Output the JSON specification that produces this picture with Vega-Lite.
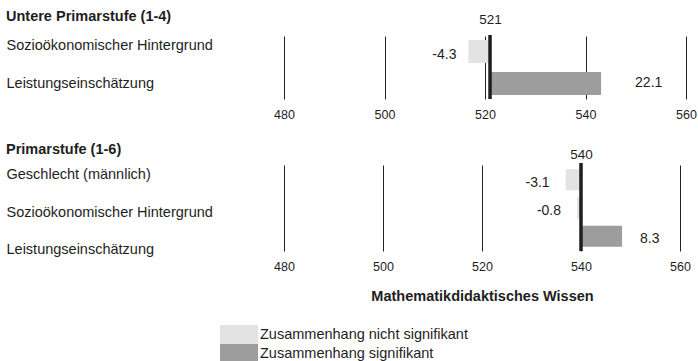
{
  "$schema": "https://vega.github.io/schema/vega-lite/v6.json",
  "padding": {"left": 6, "top": 8, "right": 0, "bottom": 0},
  "background": "white",
  "config": {
    "font": "Liberation Sans",
    "view": {"stroke": null},
    "axis": {"labelFont": "Liberation Sans", "titleFont": "Liberation Sans", "labelColor": "#1e1e1e", "titleColor": "#1e1e1e", "labelFlush": false},
    "legend": {"labelFont": "Liberation Sans"},
    "title": {"font": "Liberation Sans", "color": "#1e1e1e", "fontSize": 14.5, "fontWeight": "bold", "anchor": "start", "frame": "bounds"}
  },
  "datasets": {
    "effects": [
      {"group": "Untere Primarstufe (1-4)", "item": "Sozioökonomischer Hintergrund", "base": 521, "end": 516.7, "effect": -4.3, "sig": "Zusammenhang nicht signifikant"},
      {"group": "Untere Primarstufe (1-4)", "item": "Leistungseinschätzung", "base": 521, "end": 543.1, "effect": 22.1, "sig": "Zusammenhang signifikant"},
      {"group": "Primarstufe (1-6)", "item": "Geschlecht (männlich)", "base": 540, "end": 536.9, "effect": -3.1, "sig": "Zusammenhang nicht signifikant"},
      {"group": "Primarstufe (1-6)", "item": "Sozioökonomischer Hintergrund", "base": 540, "end": 539.2, "effect": -0.8, "sig": "Zusammenhang nicht signifikant"},
      {"group": "Primarstufe (1-6)", "item": "Leistungseinschätzung", "base": 540, "end": 548.3, "effect": 8.3, "sig": "Zusammenhang signifikant"}
    ],
    "bases": [
      {"group": "Untere Primarstufe (1-4)", "base": 521},
      {"group": "Primarstufe (1-6)", "base": 540}
    ]
  },
  "resolve": {"legend": {"color": "independent"}},
  "spacing": 20,
  "vconcat": [
    {
      "title": {"text": "Untere Primarstufe (1-4)", "offset": -12},
      "width": 402,
      "height": 63,
      "layer": [
        {
          "data": {"name": "effects"},
          "transform": [{"filter": "datum.group === 'Untere Primarstufe (1-4)'"}],
          "mark": {"type": "point", "opacity": 0},
          "encoding": {
            "y": {"field": "item", "type": "nominal", "sort": null, "scale": {"type": "point", "padding": 0.35},
              "axis": {"orient": "left", "title": null, "domain": false, "ticks": false, "labelAlign": "left", "labelPadding": 278, "labelOffset": -3, "labelFontSize": 14.5, "labelLimit": 400}},
            "x": {"field": "base", "type": "quantitative", "scale": {"domain": [480, 560], "nice": false, "zero": false}, "axis": null}
          }
        },
        {
          "data": {"name": "effects"},
          "transform": [{"filter": "datum.group === 'Untere Primarstufe (1-4)'"}],
          "mark": {"type": "bar"},
          "encoding": {
            "y": {"field": "item", "type": "nominal", "sort": null, "scale": {"type": "band", "paddingInner": 0.28, "paddingOuter": 0.125}, "axis": null},
            "x": {"field": "base", "type": "quantitative", "scale": {"domain": [480, 560], "nice": false, "zero": false},
              "axis": {"title": null, "values": [480, 500, 520, 540, 560], "grid": true, "gridColor": "#222222", "gridOpacity": 1, "domain": false, "ticks": false, "labelFontSize": 12.5, "labelPadding": 9}},
            "x2": {"field": "end"},
            "color": {"field": "sig", "type": "nominal", "scale": {"domain": ["Zusammenhang nicht signifikant", "Zusammenhang signifikant"], "range": ["#e3e3e3", "#9d9d9d"]}, "legend": null}
          }
        },
        {
          "data": {"name": "bases"},
          "transform": [{"filter": "datum.group === 'Untere Primarstufe (1-4)'"}],
          "mark": {"type": "rule", "strokeWidth": 3.5, "color": "#1e1e1e", "yOffset": -1, "y2Offset": 12},
          "encoding": {
            "x": {"field": "base", "type": "quantitative", "scale": {"domain": [480, 560], "nice": false, "zero": false},
              "axis": {"orient": "top", "title": null, "values": [521], "grid": false, "domain": false, "ticks": false, "labelFontSize": 13.5, "labelPadding": 10}}
          }
        },
        {
          "data": {"name": "effects"},
          "transform": [{"filter": "datum.group === 'Untere Primarstufe (1-4)' && datum.effect < 0"}],
          "mark": {"type": "text", "align": "right", "baseline": "middle", "dx": -12, "dy": 3, "fontSize": 14, "color": "#1e1e1e"},
          "encoding": {
            "y": {"field": "item", "type": "nominal", "sort": null, "scale": {"type": "band", "paddingInner": 0.28, "paddingOuter": 0.125, "domain": ["Sozioökonomischer Hintergrund", "Leistungseinschätzung"]}, "axis": null},
            "x": {"field": "end", "type": "quantitative", "scale": {"domain": [480, 560], "nice": false, "zero": false}, "axis": null},
            "text": {"field": "effect", "type": "nominal"}
          }
        },
        {
          "data": {"name": "effects"},
          "transform": [{"filter": "datum.group === 'Untere Primarstufe (1-4)' && datum.effect >= 0"}],
          "mark": {"type": "text", "align": "left", "baseline": "middle", "dx": 34, "dy": 0, "fontSize": 14, "color": "#1e1e1e"},
          "encoding": {
            "y": {"field": "item", "type": "nominal", "sort": null, "scale": {"type": "band", "paddingInner": 0.28, "paddingOuter": 0.125, "domain": ["Sozioökonomischer Hintergrund", "Leistungseinschätzung"]}, "axis": null},
            "x": {"field": "end", "type": "quantitative", "scale": {"domain": [480, 560], "nice": false, "zero": false}, "axis": null},
            "text": {"field": "effect", "type": "nominal"}
          }
        }
      ],
      "resolve": {"axis": {"x": "independent", "y": "independent"}, "scale": {"y": "independent"}}
    },
    {
      "title": {"text": "Primarstufe (1-6)", "offset": -10},
      "width": 396,
      "height": 86,
      "layer": [
        {
          "data": {"name": "effects"},
          "transform": [{"filter": "datum.group === 'Primarstufe (1-6)'"}],
          "mark": {"type": "point", "opacity": 0},
          "encoding": {
            "y": {"field": "item", "type": "nominal", "sort": null, "scale": {"type": "point", "padding": 0.162},
              "axis": {"orient": "left", "title": null, "domain": false, "ticks": false, "labelAlign": "left", "labelPadding": 278, "labelOffset": 4, "labelFontSize": 14.5, "labelLimit": 400}},
            "x": {"field": "base", "type": "quantitative", "scale": {"domain": [480, 560], "nice": false, "zero": false}, "axis": null}
          }
        },
        {
          "data": {"name": "effects"},
          "transform": [{"filter": "datum.group === 'Primarstufe (1-6)'"}],
          "mark": {"type": "bar"},
          "encoding": {
            "y": {"field": "item", "type": "nominal", "sort": null, "scale": {"type": "band", "paddingInner": 0.26, "paddingOuter": 0.15}, "axis": null},
            "x": {"field": "base", "type": "quantitative", "scale": {"domain": [480, 560], "nice": false, "zero": false},
              "axis": {"title": "Mathematikdidaktisches Wissen", "titleFontSize": 14.5, "titleFontWeight": "bold", "titlePadding": 17, "values": [480, 500, 520, 540, 560], "grid": true, "gridColor": "#222222", "gridOpacity": 1, "domain": false, "ticks": false, "labelFontSize": 12.5, "labelPadding": 9}},
            "x2": {"field": "end"},
            "color": {"field": "sig", "type": "nominal", "scale": {"domain": ["Zusammenhang nicht signifikant", "Zusammenhang signifikant"], "range": ["#e3e3e3", "#9d9d9d"]},
              "legend": {"title": null, "orient": "none", "legendX": -54.5, "legendY": 160, "padding": 0, "rowPadding": 0, "symbolType": "M-2,-1H2V1H-2Z", "symbolSize": 361, "symbolStrokeWidth": 0, "symbolOpacity": 1, "labelOffset": 11.5, "labelFontSize": 14.5, "labelColor": "#1e1e1e", "labelLimit": 400}}
          }
        },
        {
          "data": {"name": "bases"},
          "transform": [{"filter": "datum.group === 'Primarstufe (1-6)'"}],
          "mark": {"type": "rule", "strokeWidth": 3.5, "color": "#1e1e1e", "yOffset": -2, "y2Offset": 7},
          "encoding": {
            "x": {"field": "base", "type": "quantitative", "scale": {"domain": [480, 560], "nice": false, "zero": false},
              "axis": {"orient": "top", "title": null, "values": [540], "grid": false, "domain": false, "ticks": false, "labelFontSize": 13.5, "labelPadding": 4}}
          }
        },
        {
          "data": {"name": "effects"},
          "transform": [{"filter": "datum.group === 'Primarstufe (1-6)' && datum.effect < 0"}],
          "mark": {"type": "text", "align": "right", "baseline": "middle", "dx": -16, "dy": 3, "fontSize": 14, "color": "#1e1e1e"},
          "encoding": {
            "y": {"field": "item", "type": "nominal", "sort": null, "scale": {"type": "band", "paddingInner": 0.26, "paddingOuter": 0.15, "domain": ["Geschlecht (männlich)", "Sozioökonomischer Hintergrund", "Leistungseinschätzung"]}, "axis": null},
            "x": {"field": "end", "type": "quantitative", "scale": {"domain": [480, 560], "nice": false, "zero": false}, "axis": null},
            "text": {"field": "effect", "type": "nominal"}
          }
        },
        {
          "data": {"name": "effects"},
          "transform": [{"filter": "datum.group === 'Primarstufe (1-6)' && datum.effect >= 0"}],
          "mark": {"type": "text", "align": "left", "baseline": "middle", "dx": 18, "dy": 3, "fontSize": 14, "color": "#1e1e1e"},
          "encoding": {
            "y": {"field": "item", "type": "nominal", "sort": null, "scale": {"type": "band", "paddingInner": 0.26, "paddingOuter": 0.15, "domain": ["Geschlecht (männlich)", "Sozioökonomischer Hintergrund", "Leistungseinschätzung"]}, "axis": null},
            "x": {"field": "end", "type": "quantitative", "scale": {"domain": [480, 560], "nice": false, "zero": false}, "axis": null},
            "text": {"field": "effect", "type": "nominal"}
          }
        }
      ],
      "resolve": {"axis": {"x": "independent", "y": "independent"}, "scale": {"y": "independent"}}
    }
  ]
}
